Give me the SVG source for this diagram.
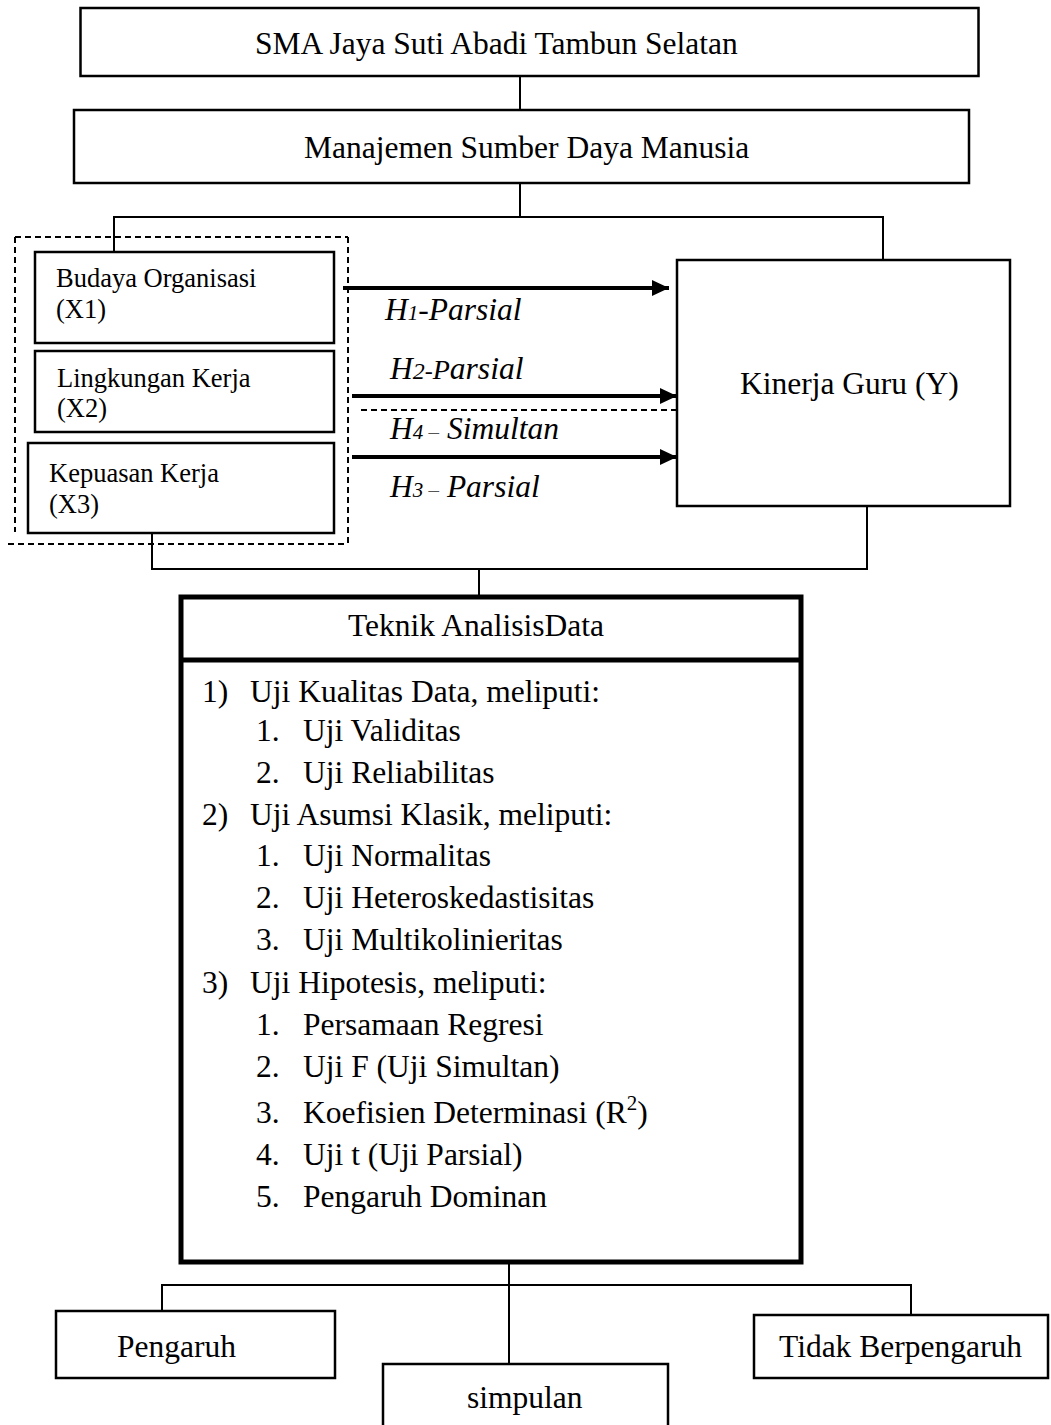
<svg xmlns="http://www.w3.org/2000/svg" width="1051" height="1425" viewBox="0 0 1051 1425">
<style>
text{font-family:"Liberation Serif","Times New Roman",serif;fill:#000}
.t{font-size:31.5px}
.s{font-size:26.5px}
.h{font-size:31.5px;font-style:italic}
.box{fill:#fff;stroke:#000;stroke-width:2.5}
.thick{fill:#fff;stroke:#000;stroke-width:5}
.c{fill:none;stroke:#000;stroke-width:2}
.a{fill:none;stroke:#000;stroke-width:4}
.d{fill:none;stroke:#000;stroke-width:2;stroke-dasharray:6 4}
</style>
<defs>
<marker id="ah" markerUnits="userSpaceOnUse" markerWidth="17" markerHeight="16" refX="17" refY="8" orient="auto">
<path d="M0,0 L17,8 L0,16 z" fill="#000"/>
</marker>
</defs>
<g id="connectors">
<line class="c" x1="520" y1="76" x2="520" y2="110"/>
<polyline class="c" points="114,252 114,217 883,217 883,260"/>
<line class="c" x1="520" y1="183" x2="520" y2="217"/>
<polyline class="c" points="152,533 152,569 867,569 867,506"/>
<line class="c" x1="479" y1="569" x2="479" y2="597"/>
<line class="c" x1="509" y1="1255" x2="509" y2="1363"/>
<polyline class="c" points="162,1311 162,1285 911,1285 911,1315"/>
<line class="a" x1="343" y1="288" x2="669" y2="288" marker-end="url(#ah)"/>
<line class="a" x1="352" y1="396" x2="677" y2="396" marker-end="url(#ah)"/>
<line class="d" x1="361" y1="410" x2="677" y2="410"/>
<line class="a" x1="352" y1="457" x2="677" y2="457" marker-end="url(#ah)"/>
</g>
<g id="sma">
<rect class="box" x="80.5" y="8" width="898" height="68"/>
<text class="t" x="255" y="54">SMA Jaya Suti Abadi Tambun Selatan</text>
</g>
<g id="msdm">
<rect class="box" x="74" y="110" width="895" height="73"/>
<text class="t" x="304" y="158">Manajemen Sumber Daya Manusia</text>
</g>
<g id="group-x">
<line class="d" x1="15" y1="237" x2="348" y2="237"/>
<line class="d" x1="15" y1="237" x2="15" y2="532"/>
<line class="d" x1="348" y1="237" x2="348" y2="544"/>
<line class="d" x1="8" y1="544" x2="348" y2="544"/>
</g>
<g id="x1">
<rect class="box" x="35" y="252" width="299" height="91"/>
<text class="s" x="56" y="287">Budaya Organisasi</text>
<text class="s" x="56" y="318">(X1)</text>
</g>
<g id="x2">
<rect class="box" x="35" y="351" width="299" height="81"/>
<text class="s" x="57" y="387">Lingkungan Kerja</text>
<text class="s" x="57" y="417">(X2)</text>
</g>
<g id="x3">
<rect class="box" x="28" y="443" width="306" height="90"/>
<text class="s" x="49" y="482">Kepuasan Kerja</text>
<text class="s" x="49" y="513">(X3)</text>
</g>
<g id="labels">
<text class="h" x="385" y="320">H<tspan font-size="21">1</tspan>-Parsial</text>
<text class="h" x="390" y="379">H<tspan font-size="24">2-</tspan><tspan font-size="28">P</tspan>arsial</text>
<text class="h" x="390" y="439">H<tspan font-size="21">4 </tspan><tspan font-size="21" fill="#555">–</tspan> Simultan</text>
<text class="h" x="390" y="497">H<tspan font-size="21">3 </tspan><tspan font-size="21" fill="#555">–</tspan> Parsial</text>
</g>
<g id="kinerja">
<rect class="box" x="677" y="260" width="333" height="246"/>
<text class="t" x="740" y="394">Kinerja Guru (Y)</text>
</g>
<g id="teknik">
<rect class="thick" x="181" y="597" width="620" height="665"/>
<line x1="181" y1="660" x2="801" y2="660" stroke="#000" stroke-width="5"/>
<text class="t" x="476" y="636" text-anchor="middle">Teknik AnalisisData</text>
<text class="t" x="202" y="702">1)</text><text class="t" x="250" y="702">Uji Kualitas Data, meliputi:</text>
<text class="t" x="256" y="741">1.</text><text class="t" x="303" y="741">Uji Validitas</text>
<text class="t" x="256" y="783">2.</text><text class="t" x="303" y="783">Uji Reliabilitas</text>
<text class="t" x="202" y="825">2)</text><text class="t" x="250" y="825">Uji Asumsi Klasik, meliputi:</text>
<text class="t" x="256" y="866">1.</text><text class="t" x="303" y="866">Uji Normalitas</text>
<text class="t" x="256" y="908">2.</text><text class="t" x="303" y="908">Uji Heteroskedastisitas</text>
<text class="t" x="256" y="950">3.</text><text class="t" x="303" y="950">Uji Multikolinieritas</text>
<text class="t" x="202" y="993">3)</text><text class="t" x="250" y="993">Uji Hipotesis, meliputi:</text>
<text class="t" x="256" y="1035">1.</text><text class="t" x="303" y="1035">Persamaan Regresi</text>
<text class="t" x="256" y="1077">2.</text><text class="t" x="303" y="1077">Uji F (Uji Simultan)</text>
<text class="t" x="256" y="1123">3.</text><text class="t" x="303" y="1123">Koefisien Determinasi (R<tspan font-size="21" dy="-13">2</tspan><tspan dy="13">)</tspan></text>
<text class="t" x="256" y="1165">4.</text><text class="t" x="303" y="1165">Uji t (Uji Parsial)</text>
<text class="t" x="256" y="1207">5.</text><text class="t" x="303" y="1207">Pengaruh Dominan</text>
</g>
<g id="pengaruh">
<rect class="box" x="56" y="1311" width="279" height="67"/>
<text class="t" x="117" y="1357">Pengaruh</text>
</g>
<g id="simpulan">
<rect class="box" x="383" y="1364" width="285" height="80"/>
<text class="t" x="467" y="1408">simpulan</text>
</g>
<g id="tidak">
<rect class="box" x="754" y="1315" width="294" height="63"/>
<text class="t" x="779" y="1357">Tidak Berpengaruh</text>
</g>
</svg>
